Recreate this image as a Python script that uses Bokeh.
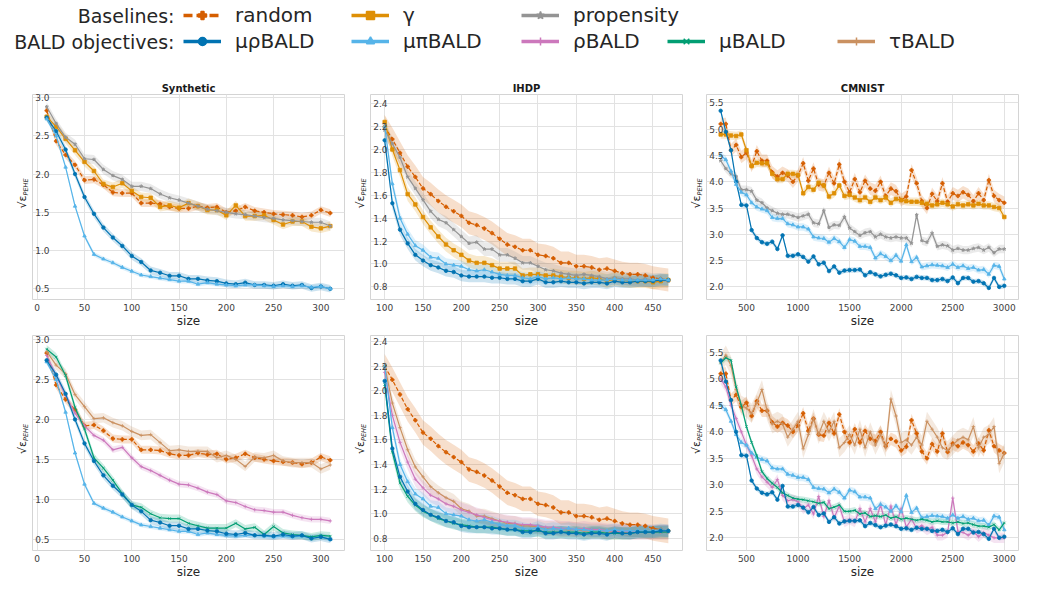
import math
from bokeh.plotting import figure
from bokeh.layouts import column, row
from bokeh.models import Range1d, FixedTicker, NumeralTickFormatter, Label, Legend, LegendItem
from bokeh.embed import file_html
from bokeh.resources import INLINE

FONT = "DejaVu Sans"

# ---------------- data ----------------
syn_size = list(range(10, 311, 10))
ihdp_size = list(range(100, 471, 10))
cm_size = list(range(250, 3001, 50))

syn_random = [2.83, 2.43, 2.25, 2.12, 1.92, 1.93, 1.86, 1.76, 1.75, 1.75,
              1.62, 1.62, 1.61, 1.57, 1.55, 1.55, 1.58, 1.56, 1.57, 1.50,
              1.52, 1.57, 1.52, 1.50, 1.48, 1.47, 1.46, 1.44, 1.46, 1.53,
              1.49]
syn_gamma = [2.75, 2.62, 2.46, 2.31, 2.16, 2.04, 1.87, 1.83, 1.88, 1.78,
             1.70, 1.69, 1.57, 1.59, 1.56, 1.62, 1.58, 1.53, 1.53, 1.46,
             1.59, 1.45, 1.45, 1.46, 1.40, 1.34, 1.38, 1.38, 1.31, 1.29,
             1.32]
syn_prop = [2.88, 2.66, 2.48, 2.39, 2.20, 2.19, 2.06, 1.98, 1.93, 1.84,
            1.84, 1.81, 1.74, 1.69, 1.66, 1.62, 1.58, 1.54, 1.52, 1.50,
            1.48, 1.47, 1.45, 1.43, 1.42, 1.40, 1.39, 1.38, 1.37, 1.37,
            1.32]
syn_murho = [2.74, 2.56, 2.32, 2.00, 1.70, 1.48, 1.30, 1.17, 1.06, 0.93,
             0.85, 0.74, 0.71, 0.67, 0.67, 0.63, 0.63, 0.61, 0.60, 0.57,
             0.56, 0.58, 0.55, 0.55, 0.54, 0.56, 0.54, 0.55, 0.51, 0.53,
             0.50]
syn_mupi = [2.72, 2.50, 2.09, 1.58, 1.19, 0.95, 0.89, 0.84, 0.78, 0.73,
            0.68, 0.66, 0.64, 0.62, 0.60, 0.60, 0.56, 0.58, 0.56, 0.55,
            0.54, 0.55, 0.55, 0.54, 0.53, 0.54, 0.53, 0.54, 0.52, 0.53,
            0.50]
syn_mu = [2.88, 2.78, 2.55, 2.15, 1.88, 1.52, 1.39, 1.24, 1.07, 0.93,
          0.90, 0.82, 0.77, 0.76, 0.76, 0.70, 0.67, 0.64, 0.64, 0.64,
          0.70, 0.63, 0.65, 0.56, 0.66, 0.58, 0.56, 0.55, 0.53, 0.55,
          0.54]
syn_rho = [2.80, 2.55, 2.30, 2.08, 1.92, 1.80, 1.74, 1.62, 1.65, 1.52,
           1.41, 1.36, 1.30, 1.24, 1.19, 1.18, 1.14, 1.09, 1.06, 0.98,
           0.96, 0.91, 0.87, 0.86, 0.84, 0.84, 0.80, 0.77, 0.75, 0.75,
           0.73]
syn_tau = [2.85, 2.68, 2.57, 2.31, 2.16, 2.01, 2.02, 1.96, 1.92, 1.85,
           1.80, 1.81, 1.71, 1.61, 1.62, 1.60, 1.60, 1.60, 1.52, 1.55,
           1.50, 1.41, 1.53, 1.52, 1.55, 1.48, 1.46, 1.46, 1.46, 1.38,
           1.43]

ihdp_random = [2.20, 2.09, 1.97, 1.85, 1.76, 1.66, 1.61, 1.55, 1.50, 1.46,
               1.42, 1.36, 1.34, 1.31, 1.27, 1.22, 1.17, 1.15, 1.12, 1.12,
               1.08, 1.07, 1.05, 1.01, 1.01, 0.98, 0.98, 0.97, 0.95, 0.96,
               0.94, 0.92, 0.91, 0.91, 0.90, 0.88, 0.87, 0.86]
ihdp_gamma = [2.24, 2.00, 1.82, 1.61, 1.52, 1.41, 1.32, 1.24, 1.17, 1.12,
              1.08, 1.03, 1.01, 1.01, 0.99, 0.96, 0.96, 0.96, 0.90, 0.91,
              0.91, 0.90, 0.90, 0.89, 0.88, 0.88, 0.87, 0.88, 0.87, 0.85,
              0.87, 0.86, 0.85, 0.85, 0.85, 0.84, 0.85, 0.86]
ihdp_prop = [2.17, 2.05, 1.93, 1.76, 1.66, 1.56, 1.46, 1.39, 1.36, 1.30,
             1.24, 1.18, 1.19, 1.13, 1.13, 1.08, 1.08, 1.05, 1.01, 1.01,
             0.98, 0.95, 0.94, 0.92, 0.91, 0.90, 0.91, 0.90, 0.89, 0.87,
             0.88, 0.87, 0.87, 0.86, 0.87, 0.86, 0.86, 0.85]
ihdp_murho = [2.08, 1.53, 1.30, 1.18, 1.08, 1.03, 0.99, 0.97, 0.94, 0.93,
              0.90, 0.89, 0.89, 0.89, 0.88, 0.88, 0.87, 0.87, 0.85, 0.85,
              0.87, 0.84, 0.84, 0.85, 0.84, 0.84, 0.83, 0.84, 0.84, 0.83,
              0.85, 0.84, 0.84, 0.85, 0.85, 0.85, 0.86, 0.86]
ihdp_mupi = [2.20, 1.70, 1.40, 1.26, 1.16, 1.12, 1.06, 1.05, 1.00, 0.99,
             0.98, 0.95, 0.94, 0.95, 0.93, 0.91, 0.90, 0.90, 0.88, 0.87,
             0.89, 0.87, 0.88, 0.87, 0.88, 0.87, 0.87, 0.86, 0.86, 0.86,
             0.87, 0.86, 0.86, 0.86, 0.86, 0.86, 0.87, 0.86]
ihdp_mu = [2.05, 1.50, 1.25, 1.14, 1.07, 1.02, 0.99, 0.96, 0.94, 0.92,
           0.91, 0.90, 0.89, 0.89, 0.89, 0.88, 0.87, 0.87, 0.86, 0.86,
           0.86, 0.85, 0.85, 0.85, 0.85, 0.85, 0.84, 0.85, 0.85, 0.84,
           0.84, 0.84, 0.84, 0.85, 0.85, 0.85, 0.85, 0.85]
ihdp_rho = [2.15, 1.80, 1.58, 1.42, 1.28, 1.21, 1.15, 1.12, 1.08, 1.06,
            1.03, 1.01, 0.99, 0.97, 0.95, 0.94, 0.93, 0.92, 0.91, 0.91,
            0.90, 0.89, 0.89, 0.88, 0.88, 0.87, 0.88, 0.87, 0.87, 0.86,
            0.86, 0.86, 0.85, 0.85, 0.85, 0.85, 0.85, 0.85]
ihdp_tau = [2.20, 1.90, 1.70, 1.52, 1.38, 1.30, 1.22, 1.17, 1.13, 1.10,
            1.04, 1.02, 0.98, 0.98, 0.96, 0.94, 0.92, 0.92, 0.90, 0.90,
            0.89, 0.88, 0.88, 0.87, 0.87, 0.87, 0.86, 0.86, 0.86, 0.85,
            0.85, 0.85, 0.85, 0.85, 0.85, 0.85, 0.85, 0.85]

cm_random = [5.10, 5.10, 4.60, 4.70, 4.47, 4.55, 4.30, 4.58, 4.40, 4.40,
             4.18, 4.10, 4.17, 4.12, 4.00, 4.12, 4.35, 4.02, 4.25, 3.95,
             3.93, 4.17, 3.97, 4.33, 4.00, 3.80, 4.05, 3.80, 4.02, 3.87,
             3.83, 4.00, 3.73, 3.87, 3.82, 3.65, 3.72, 4.22, 3.97, 3.63,
             3.50, 3.77, 3.63, 3.97, 3.62, 3.78, 3.73, 3.80, 3.75, 3.63,
             3.78, 3.65, 4.03, 3.73, 3.65, 3.60]
cm_gamma = [4.90, 4.90, 4.88, 4.87, 4.90, 4.60, 4.30, 4.36, 4.35, 4.35,
            4.15, 4.05, 4.05, 4.15, 4.15, 4.13, 3.78, 3.90, 3.85, 3.98,
            3.93, 3.72, 3.78, 3.93, 3.73, 3.75, 3.70, 3.65, 3.70, 3.62,
            3.70, 3.65, 3.70, 3.60, 3.67, 3.65, 3.63, 3.62, 3.62, 3.60,
            3.58, 3.55, 3.57, 3.60, 3.57, 3.53, 3.57, 3.55, 3.57, 3.55,
            3.58, 3.55, 3.55, 3.52, 3.50, 3.33]
cm_prop = [4.40, 4.25, 4.15, 4.10, 3.85, 3.85, 3.82, 3.65, 3.60, 3.50,
           3.45, 3.40, 3.38, 3.38, 3.35, 3.32, 3.35, 3.38, 3.22, 3.20,
           3.45, 3.13, 3.18, 3.17, 3.33, 3.12, 3.05, 2.98, 3.03, 3.05,
           2.95, 3.00, 2.95, 2.93, 2.95, 2.93, 2.93, 2.83, 3.37, 2.88,
           2.85, 3.02, 2.77, 2.80, 2.78, 2.70, 2.73, 2.70, 2.70, 2.73,
           2.75, 2.70, 2.75, 2.65, 2.72, 2.72]
cm_murho = [5.35, 4.95, 4.60, 4.00, 3.56, 3.55, 3.08, 2.93, 2.85, 2.82,
            2.86, 2.72, 2.98, 2.59, 2.59, 2.62, 2.57, 2.48, 2.58, 2.43,
            2.46, 2.30, 2.39, 2.27, 2.31, 2.32, 2.32, 2.33, 2.22, 2.28,
            2.24, 2.20, 2.23, 2.25, 2.22, 2.17, 2.18, 2.15, 2.19, 2.17,
            2.17, 2.13, 2.13, 2.15, 2.11, 2.18, 2.07, 2.17, 2.17, 2.10,
            2.11, 2.07, 1.98, 2.17, 2.00, 2.02]
cm_mupi = [4.50, 4.42, 4.20, 3.95, 3.80, 3.75, 3.60, 3.52, 3.48, 3.45,
           3.32, 3.30, 3.30, 3.20, 3.18, 3.14, 3.14, 3.10, 2.95, 2.93,
           2.92, 2.85, 2.92, 2.86, 2.75, 2.90, 2.87, 2.77, 2.77, 2.75,
           2.55, 2.63, 2.58, 2.50, 2.60, 2.49, 2.80, 2.48, 2.56, 2.38,
           2.40, 2.42, 2.41, 2.40, 2.37, 2.43, 2.37, 2.40, 2.35, 2.37,
           2.32, 2.33, 2.24, 2.41, 2.39, 2.15]
cm_mu = [5.30, 5.40, 5.35, 4.85, 4.50, 4.10, 3.80, 3.55, 3.25, 3.12,
         3.03, 2.95, 2.85, 2.80, 2.75, 2.73, 2.72, 2.70, 2.68, 2.65,
         2.67, 2.55, 2.58, 2.62, 2.50, 2.50, 2.52, 2.45, 2.47, 2.40,
         2.42, 2.40, 2.43, 2.37, 2.40, 2.35, 2.37, 2.35, 2.33, 2.35,
         2.33, 2.30, 2.32, 2.30, 2.30, 2.28, 2.30, 2.27, 2.28, 2.25,
         2.22, 2.22, 2.20, 2.25, 2.15, 2.28]
cm_rho = [5.00, 4.85, 4.50, 4.25, 4.00, 3.75, 3.55, 3.30, 3.15, 3.05,
          2.95, 3.10, 2.80, 2.70, 2.72, 2.68, 2.55, 2.62, 2.45, 2.78,
          2.40, 2.70, 2.38, 2.60, 2.30, 2.35, 2.30, 2.55, 2.30, 2.55,
          2.30, 2.62, 2.25, 2.60, 2.25, 2.55, 2.20, 2.35, 2.18, 2.23,
          2.15, 2.20, 2.05, 2.05, 2.10, 2.75, 2.12, 2.10, 2.05, 2.12,
          2.02, 2.10, 2.05, 2.00, 2.00, 2.00]
cm_tau = [5.30, 5.45, 5.25, 4.80, 4.50, 4.45, 4.35, 4.55, 4.80, 4.40,
          4.15, 4.20, 4.15, 3.90, 4.05, 4.20, 3.68, 3.95, 4.25, 3.95,
          4.20, 4.00, 4.20, 3.70, 3.80, 3.95, 3.75, 4.05, 3.70, 4.00,
          3.75, 3.95, 3.70, 4.62, 4.30, 3.80, 3.85, 3.75, 3.90, 3.75,
          4.20, 4.05, 3.90, 3.70, 3.65, 3.75, 3.85, 3.90, 3.85, 4.10,
          3.70, 3.90, 3.95, 4.10, 3.40, 3.60]

# band half-widths (approximate standard errors) per dataset
syn_band = {"random": 0.05, "gamma": 0.06, "prop": 0.06, "murho": 0.05, "mupi": 0.03,
            "mu": 0.05, "rho": 0.04, "tau": 0.06}
ihdp_band = {"random": 0.10, "gamma": 0.06, "prop": 0.06, "murho": 0.05, "mupi": 0.05,
             "mu": 0.05, "rho": 0.06, "tau": 0.06}
cm_band = {"random": 0.12, "gamma": 0.08, "prop": 0.08, "murho": 0.05, "mupi": 0.07,
           "mu": 0.06, "rho": 0.10, "tau": 0.18}

STYLES = {
    "random": dict(label="random", color="#d55e00", marker="plus", dash="4 2", legdash="9 4"),
    "gamma": dict(label="γ", color="#de8f05", marker="square", dash="solid", legdash="solid"),
    "prop": dict(label="propensity", color="#949494", marker="star", dash="solid", legdash="solid"),
    "murho": dict(label="μρBALD", color="#0173b2", marker="circle", dash="solid", legdash="solid"),
    "mupi": dict(label="μπBALD", color="#56b4e9", marker="triangle", dash="solid", legdash="solid"),
    "rho": dict(label="ρBALD", color="#cc78bc", marker="cross", dash="solid", legdash="solid"),
    "mu": dict(label="μBALD", color="#029e73", marker="x", dash="solid", legdash="solid"),
    "tau": dict(label="τBALD", color="#ca9161", marker="cross", dash="solid", legdash="solid"),
}

syn_data = dict(random=syn_random, gamma=syn_gamma, prop=syn_prop, murho=syn_murho,
                mupi=syn_mupi, mu=syn_mu, rho=syn_rho, tau=syn_tau)
ihdp_data = dict(random=ihdp_random, gamma=ihdp_gamma, prop=ihdp_prop, murho=ihdp_murho,
                 mupi=ihdp_mupi, mu=ihdp_mu, rho=ihdp_rho, tau=ihdp_tau)
cm_data = dict(random=cm_random, gamma=cm_gamma, prop=cm_prop, murho=cm_murho,
               mupi=cm_mupi, mu=cm_mu, rho=cm_rho, tau=cm_tau)

TOP_KEYS = ["random", "gamma", "prop", "murho", "mupi"]
BOT_KEYS = ["random", "tau", "rho", "mupi", "mu", "murho"]

# ---------------- layout ----------------
FW = 312
PAD = 2
TOP_H = (16, 206, 30)   # top border, frame, bottom border
BOT_H = (5, 217, 29)
LAB_W = [30, 22, 20]
LEG_H = 78


def make_ylabel(col, hspec):
    top, fh, bottom = hspec
    w = LAB_W[col]
    f = figure(width=w, height=top + fh + bottom, x_range=Range1d(0, w), y_range=Range1d(0, fh),
               output_backend="svg", toolbar_location=None, x_axis_type=None, y_axis_type=None,
               min_border_left=0, min_border_right=0, min_border_top=top, min_border_bottom=bottom)
    f.grid.visible = False
    f.outline_line_color = None
    f.add_layout(Label(text="√ε", x=w - 8, y=fh / 2 - 12, x_units="screen", y_units="screen",
                       angle=math.pi / 2, text_align="left", text_baseline="middle",
                       text_font=FONT, text_font_size="11px", text_color="#262626"))
    f.add_layout(Label(text="PEHE", x=w - 5, y=fh / 2 + 1, x_units="screen", y_units="screen",
                       angle=math.pi / 2, text_align="left", text_baseline="middle",
                       text_font=FONT, text_font_size="6.5px", text_font_style="italic",
                       text_color="#262626"))
    return f


def make_panel(sizes, data, band, keys, xr, yr, xticks, yticks, hspec, title=None):
    top, fh, bottom = hspec
    p = figure(width=PAD + FW + PAD, height=top + fh + bottom,
               x_range=Range1d(*xr), y_range=Range1d(*yr),
               output_backend="svg", toolbar_location=None,
               min_border_left=PAD, min_border_right=PAD,
               min_border_top=top, min_border_bottom=bottom)
    if title:
        p.title.text = title
        p.title.align = "center"
        p.title.text_font = FONT
        p.title.text_font_size = "10px"
        p.title.text_font_style = "bold"
        p.title.text_color = "#1a1a1a"
        p.title.standoff = 2
    p.outline_line_color = "#d4d4d4"
    p.outline_line_width = 1
    p.grid.grid_line_color = "#e2e2e2"
    p.grid.grid_line_width = 1
    p.xaxis.ticker = FixedTicker(ticks=xticks)
    p.yaxis.ticker = FixedTicker(ticks=yticks)
    p.yaxis.formatter = NumeralTickFormatter(format="0.0")
    p.axis.axis_line_color = None
    p.axis.major_tick_line_color = None
    p.axis.minor_tick_line_color = None
    p.axis.major_tick_out = 0
    p.axis.major_tick_in = 0
    p.axis.major_label_text_font = FONT
    p.axis.major_label_text_font_size = "9px"
    p.axis.major_label_text_color = "#404040"
    p.xaxis.major_label_standoff = 4
    p.yaxis.major_label_standoff = -17
    p.xaxis.axis_label = "size"
    p.xaxis.axis_label_text_font = FONT
    p.xaxis.axis_label_text_font_size = "12px"
    p.xaxis.axis_label_text_font_style = "normal"
    p.xaxis.axis_label_text_color = "#262626"
    p.xaxis.axis_label_standoff = 0

    for k in keys:
        st = STYLES[k]
        y = data[k]
        e = band[k]
        p.varea(x=sizes, y1=[v - e for v in y], y2=[v + e for v in y],
                fill_color=st["color"], fill_alpha=0.2)
    for k in keys:
        st = STYLES[k]
        y = data[k]
        p.line(sizes, y, line_color=st["color"], line_width=1.2, line_dash=st["dash"])
        p.scatter(sizes, y, marker=st["marker"], size=3.5, line_color=st["color"],
                  fill_color=st["color"], line_width=0.8)
    return p


syn_x = [0, 50, 100, 150, 200, 250, 300]
syn_y = [0.5, 1.0, 1.5, 2.0, 2.5, 3.0]
ihdp_x = [100, 150, 200, 250, 300, 350, 400, 450]
ihdp_y = [0.8, 1.0, 1.2, 1.4, 1.6, 1.8, 2.0, 2.2, 2.4]
cm_x = [500, 1000, 1500, 2000, 2500, 3000]
cm_y = [2.0, 2.5, 3.0, 3.5, 4.0, 4.5, 5.0, 5.5]

p1 = make_panel(syn_size, syn_data, syn_band, TOP_KEYS, (-5, 325), (0.36, 3.04), syn_x, syn_y, TOP_H, "Synthetic")
p2 = make_panel(ihdp_size, ihdp_data, ihdp_band, TOP_KEYS, (81.5, 488.5), (0.69, 2.48), ihdp_x, ihdp_y, TOP_H, "IHDP")
p3 = make_panel(cm_size, cm_data, cm_band, TOP_KEYS, (112.5, 3137.5), (1.76, 5.66), cm_x, cm_y, TOP_H, "CMNIST")
p4 = make_panel(syn_size, syn_data, syn_band, BOT_KEYS, (-5, 325), (0.36, 3.05), syn_x, syn_y, BOT_H)
p5 = make_panel(ihdp_size, ihdp_data, ihdp_band, BOT_KEYS, (81.5, 488.5), (0.70, 2.45), ihdp_x, ihdp_y, BOT_H)
p6 = make_panel(cm_size, cm_data, cm_band, BOT_KEYS, (112.5, 3137.5), (1.76, 5.82), cm_x, cm_y, BOT_H)

top_row = row(make_ylabel(0, TOP_H), p1, make_ylabel(1, TOP_H), p2, make_ylabel(2, TOP_H), p3, spacing=0)
bot_row = row(make_ylabel(0, BOT_H), p4, make_ylabel(1, BOT_H), p5, make_ylabel(2, BOT_H), p6, spacing=0)

# ---------------- legend strip ----------------
TOTAL_W = sum(LAB_W) + 3 * (FW + 2 * PAD)
leg = figure(width=TOTAL_W, height=LEG_H, x_range=Range1d(0, TOTAL_W), y_range=Range1d(0, LEG_H),
             output_backend="svg", toolbar_location=None, x_axis_type=None, y_axis_type=None,
             min_border=0)
leg.grid.visible = False
leg.outline_line_color = None

proxies = {}
for k, st in STYLES.items():
    lr = leg.line(syn_size, syn_data[k], line_color=st["color"], line_width=3.5,
                  line_dash=st["legdash"], visible=False)
    sr = leg.scatter(syn_size, syn_data[k], marker=st["marker"], size=9, line_color=st["color"],
                     fill_color=st["color"], line_width=1.5, visible=False)
    proxies[k] = [lr, sr]

columns = [(183, ["random", "murho"]), (351, ["gamma", "mupi"]), (521, ["prop", "rho"]),
           (667, ["mu"]), (837, ["tau"])]
for x0, keys in columns:
    lg = Legend(items=[LegendItem(label=STYLES[k]["label"], renderers=proxies[k]) for k in keys],
                location=(x0, 25), orientation="vertical", glyph_width=38, glyph_height=20,
                label_height=20, label_standoff=14, spacing=2, padding=0, margin=0,
                border_line_color=None, background_fill_alpha=0, click_policy="none",
                inactive_fill_alpha=0,
                label_text_font=FONT, label_text_font_size="20px", label_text_color="#262626",
                label_text_baseline="middle")
    leg.add_layout(lg)

for txt, yy in [("Baselines:", 63), ("BALD objectives:", 37)]:
    leg.add_layout(Label(text=txt, x=174, y=yy, x_units="screen", y_units="screen",
                         text_align="right", text_baseline="middle", text_font=FONT,
                         text_font_size="19px", text_color="#262626"))

layout = column(leg, top_row, bot_row, spacing=0)
open("out.html", "w").write(file_html(layout, INLINE))
